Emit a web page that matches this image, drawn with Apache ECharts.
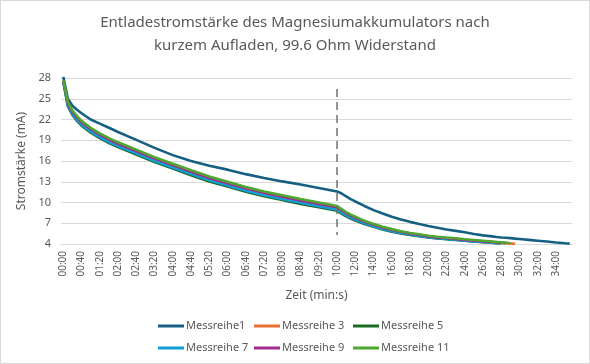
<!DOCTYPE html>
<html><head><meta charset="utf-8">
<script src="https://cdn.jsdelivr.net/npm/echarts@6/dist/echarts.min.js"></script>
<style>
html,body{margin:0;padding:0;background:#fff;}
#c{width:590px;height:364px;box-sizing:border-box;border:1px solid #d9d9d9;}
</style></head>
<body><div id="c"></div>
<script>
// category axis: 10 s steps up to 10:00, then 30 s steps up to 35:30
function fmt(s){var m=Math.floor(s/60),r=s%60;return (m<10?'0':'')+m+':'+(r<10?'0':'')+r;}
var categories=[];
for(var s=0;s<=600;s+=10)categories.push(fmt(s));
for(var s2=630;s2<=2130;s2+=30)categories.push(fmt(s2));

var yTicks=[4,7,10,13,16,19,22,25,28];

var sampleTimes=['00:00','00:10','00:20','00:30','00:40','01:00','01:20','01:40','02:00','02:40','03:20','04:00','04:40','05:20','06:00','06:40','07:20','08:00','08:40','09:20','10:00',
'10:30','11:00','11:30','12:00','13:00','14:00','15:00','16:00','17:00','18:00','19:00','20:00','21:00','22:00','23:00','24:00','25:00','26:00','27:00','27:30','28:00','28:30','29:00','29:30','30:00','31:00','32:00','33:00','34:00','35:00','35:30'];

var messreihe1=[28.2,25.0,24.0,23.4,22.9,22.0,21.4,20.8,20.2,19.05,17.9,16.85,16.0,15.3,14.75,14.1,13.55,13.05,12.6,12.1,11.6,
11.3,10.9,10.5,10.15,9.5,8.9,8.4,7.95,7.55,7.2,6.9,6.6,6.35,6.1,5.9,5.7,5.45,5.25,5.1,5.02,4.95,4.9,4.85,4.78,4.72,4.6,4.48,4.35,4.22,4.1,4.05];
var messreihe3=[27.6,24.2,23.0,22.2,21.55,20.55,19.75,19.05,18.45,17.4,16.3,15.35,14.4,13.5,12.75,12.0,11.35,10.8,10.25,9.75,9.25,
8.8,8.4,8.05,7.75,7.2,6.75,6.35,6.0,5.73,5.48,5.28,5.08,4.93,4.82,4.72,4.58,4.47,4.37,4.27,4.22,4.17,4.12,4.07,4.02];
var messreihe5=[27.5,23.9,22.65,21.8,21.1,20.1,19.3,18.6,18.0,16.95,15.85,14.9,13.95,13.05,12.3,11.55,10.9,10.35,9.8,9.3,8.8,
8.4,8.0,7.68,7.4,6.9,6.48,6.1,5.78,5.54,5.3,5.12,4.94,4.8,4.7,4.6,4.46,4.36,4.26,4.17,4.12,4.07];
var messreihe7=[27.5,24.0,22.8,21.95,21.25,20.25,19.45,18.75,18.15,17.1,16.0,15.05,14.1,13.2,12.45,11.7,11.05,10.5,9.95,9.45,8.95,
8.55,8.15,7.82,7.52,7.0,6.57,6.18,5.85,5.6,5.36,5.17,4.98,4.84,4.73,4.63,4.49,4.38,4.28,4.18,4.12];
var messreihe9=[27.6,24.3,23.1,22.3,21.6,20.6,19.8,19.1,18.5,17.45,16.35,15.4,14.45,13.55,12.8,12.05,11.4,10.85,10.3,9.8,9.3,
8.85,8.45,8.1,7.8,7.25,6.78,6.38,6.02,5.76,5.5,5.3,5.1,4.95,4.84,4.74,4.59,4.48,4.38,4.28,4.23,4.17,4.12];
var messreihe11=[27.7,24.5,23.3,22.5,21.8,20.8,20.0,19.3,18.7,17.65,16.55,15.6,14.65,13.75,13.0,12.25,11.6,11.05,10.5,10.0,9.5,
9.05,8.6,8.25,7.95,7.35,6.9,6.5,6.15,5.85,5.6,5.4,5.2,5.05,4.92,4.82,4.68,4.57,4.46,4.35,4.3,4.24,4.18,4.12];

var dividerAt='10:00';
var dividerRange=[26.4,5.3];

var names=['Messreihe1','Messreihe 3','Messreihe 5','Messreihe 7','Messreihe 9','Messreihe 11'];
var values=[messreihe1,messreihe3,messreihe5,messreihe7,messreihe9,messreihe11];
var colors=['#156082','#E97132','#196B24','#0F9ED5','#A02B93','#4EA72E'];

function pairs(v){var out=[];for(var i=0;i<v.length;i++)out.push([sampleTimes[i],v[i]]);return out;}

var FONT='Noto Sans';
var TXT='#595959';
var series=names.map(function(n,i){return{
  name:n,type:'line',data:pairs(values[i]),symbol:'none',showSymbol:false,
  lineStyle:{width:2.6,color:colors[i]},itemStyle:{color:colors[i]},z:2+i,animation:false
};});
series.push({name:'divider',type:'line',data:[[dividerAt,dividerRange[0]],[dividerAt,dividerRange[1]]],symbol:'none',
  lineStyle:{width:1.5,color:'#707070',type:[8,5]},z:20,animation:false,silent:true});

function legendCol(left,items){return{
  orient:'vertical',left:left,top:313,itemGap:8,itemWidth:26,itemHeight:3,icon:'rect',
  data:items,textStyle:{color:TXT,fontSize:11,fontFamily:FONT,padding:[0,0,0,-3],lineHeight:14},selectedMode:false
};}

var chart=echarts.init(document.getElementById('c'),null,{renderer:'canvas'});
chart.setOption({
  animation:false,
  textStyle:{fontFamily:FONT},
  title:{text:'Entladestromstärke des Magnesiumakkumulators nach\nkurzem Aufladen, 99.6 Ohm Widerstand',
    left:'center',top:5,textStyle:{color:TXT,fontSize:15,fontWeight:'normal',fontFamily:FONT,lineHeight:23}},
  grid:{left:60,top:77,width:511,height:166,containLabel:false},
  legend:[legendCol(152,['Messreihe1','Messreihe 7']),legendCol(248,['Messreihe 3','Messreihe 9']),legendCol(347,['Messreihe 5','Messreihe 11'])],
  xAxis:{type:'category',data:categories,boundaryGap:true,
    name:'Zeit (min:s)',nameLocation:'middle',nameGap:46,nameTextStyle:{color:TXT,fontSize:12,fontFamily:FONT},
    axisLine:{lineStyle:{color:'#d9d9d9'}},axisTick:{show:false},
    axisLabel:{interval:3,rotate:90,color:TXT,fontSize:10,fontFamily:FONT,margin:7},
    splitLine:{show:false}},
  yAxis:{type:'value',min:yTicks[0],max:yTicks[yTicks.length-1],interval:3,
    name:'Stromstärke (mA)',nameLocation:'middle',nameRotate:90,nameGap:27,nameTextStyle:{color:TXT,fontSize:12,fontFamily:FONT},
    axisLine:{show:false},axisTick:{show:false},
    axisLabel:{color:TXT,fontSize:11,fontFamily:FONT,margin:10},
    splitLine:{lineStyle:{color:'#d9d9d9',width:1}}},
  series:series
});
</script></body></html>
